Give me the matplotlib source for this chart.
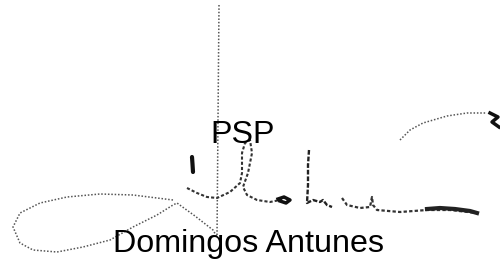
import matplotlib
matplotlib.use("Agg")
import matplotlib.pyplot as plt

# Text labels
title_text = "PSP"
name_text = "Domingos Antunes"

# Signature strokes (pixel space of the scanned image)
vline_x = [219, 218, 217]
vline_y = [5, 120, 237]

loop_x = [173, 133, 100, 67, 40, 20, 13, 20, 33, 57, 83, 110, 133, 157, 173, 177, 195, 213, 217]
loop_y = [200, 195, 194, 197, 203, 213, 227, 243, 250, 252, 247, 240, 227, 215, 205, 203, 216, 230, 237]

idot_x = [192, 192.5, 193]
idot_y = [157, 164, 172]

main_x = [187, 197, 207, 217, 230, 240, 242, 242, 245, 250, 252, 248, 243, 247, 257, 270, 280]
main_y = [188, 193, 197, 198, 192, 183, 173, 153, 143, 140, 153, 173, 187, 195, 200, 202, 200]

blob1_x = [278, 284, 290, 286, 280]
blob1_y = [199, 197, 200, 203, 201]

h_x = [309, 308, 308, 307, 313, 320, 323, 327, 332]
h_y = [150, 165, 185, 203, 200, 202, 200, 205, 207]

u_x = [342, 347, 360, 370, 372, 373, 377, 400, 427, 450, 477]
u_y = [198, 205, 208, 207, 197, 205, 210, 212, 210, 210, 213]

tail_x = [427, 440, 455, 470, 477]
tail_y = [209, 208, 209, 211, 213]

arc_x = [400, 410, 423, 447, 467, 487]
arc_y = [140, 130, 123, 116, 113, 113]

hook_x = [490, 498, 492, 499]
hook_y = [113, 117, 122, 127]

fig = plt.figure(figsize=(5.0, 2.65), dpi=100)
ax = fig.add_axes([0, 0, 1, 1])
ax.set_xlim(0, 500)
ax.set_ylim(265, 0)
ax.axis("off")

dot = dict(color="#555555", linestyle=(0, (1, 1.2)), linewidth=1.1, solid_capstyle="round")
ax.plot(vline_x, vline_y, **dot)
ax.plot(loop_x, loop_y, **dot)
ax.plot(main_x, main_y, color="#333333", linestyle=(0, (1.5, 1)), linewidth=1.5)
ax.plot(h_x, h_y, color="#222222", linestyle=(0, (2, 0.8)), linewidth=1.7)
ax.plot(u_x, u_y, color="#333333", linestyle=(0, (1.5, 1)), linewidth=1.6)
ax.plot(arc_x, arc_y, **dot)
ax.plot(idot_x, idot_y, color="#111111", linewidth=3.0, solid_capstyle="round")
ax.plot(blob1_x, blob1_y, color="#111111", linewidth=2.5)
ax.plot(tail_x, tail_y, color="#222222", linewidth=3.0)
ax.plot(hook_x, hook_y, color="#111111", linewidth=2.5)

font = ["Liberation Sans", "DejaVu Sans"]
ax.text(210, 143, title_text, family=font, fontsize=23.2, color="black", ha="left", va="baseline")
ax.text(113, 252, name_text, family=font, fontsize=23.2, color="black", ha="left", va="baseline")

fig.savefig("out.png", dpi=100, facecolor="white")
